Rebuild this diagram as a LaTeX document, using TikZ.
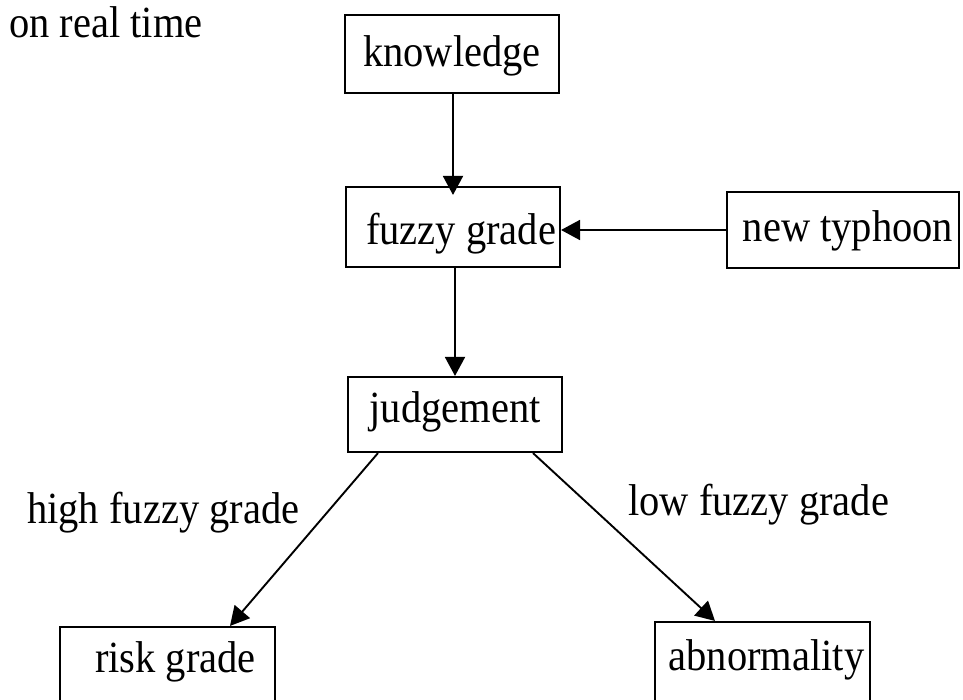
\documentclass[tikz,border=0pt]{standalone}
\usepackage{fontspec}
\setmainfont{Liberation Serif}
\usetikzlibrary{arrows.meta}
\newcommand{\boxtxt}[3]{\hspace*{#1}\raisebox{-#2}{\scalebox{1}[1.1]{#3}}}
\tikzset{
  box/.style={draw, line width=2.1pt, inner sep=0pt, text height=0pt, text depth=0pt,
    font=\fontsize{40.5}{48}\selectfont},
  lbl/.style={inner sep=0pt, font=\fontsize{40.5}{48}\selectfont},
  arr/.style={line width=1.9pt, -{Triangle[length=19pt,width=20pt]}},
}
\begin{document}
\begin{tikzpicture}[x=1pt,y=-1pt]
\useasboundingbox (0,0) rectangle (963,700);
\node[lbl, anchor=base west] (ort) at (9,38) {\scalebox{1}[1.1]{on real time}};
\node[box, minimum width=214pt, minimum height=78pt] (kn) at (452,54) {\boxtxt{0pt}{13pt}{knowledge}};
\node[box, minimum width=214pt, minimum height=80pt] (fz) at (453,227) {\boxtxt{16pt}{18pt}{fuzzy grade}};
\node[box, minimum width=232pt, minimum height=76pt] (nt) at (843,230) {\boxtxt{10pt}{12pt}{new typhoon}};
\node[box, minimum width=214pt, minimum height=75pt] (jd) at (455,414.5) {\boxtxt{0pt}{7.5pt}{judgement}};
\node[box, minimum width=215pt, minimum height=80pt] (rg) at (167.5,667) {\boxtxt{16pt}{5pt}{risk grade}};
\node[box, minimum width=215pt, minimum height=80pt] (ab) at (762.5,662) {\boxtxt{8pt}{8pt}{abnormality}};
\node[lbl, anchor=base west] (hfg) at (27,523) {\scalebox{1}[1.1]{high fuzzy grade}};
\node[lbl, anchor=base west] (lfg) at (628,515) {\scalebox{1}[1.1]{low fuzzy grade}};
\draw[arr] (kn.south -| fz.north) -- ([yshift=-9pt]fz.north);
\draw[arr] (fz.south -| jd.north) -- (jd.north);
\draw[arr] (nt.west) -- (nt.west -| fz.east);
\draw[arr] ([xshift=-77pt]jd.south) -- ([xshift=62.5pt]rg.north);
\draw[arr] ([xshift=78pt]jd.south) -- ([xshift=-47.5pt]ab.north);
\end{tikzpicture}
\end{document}
